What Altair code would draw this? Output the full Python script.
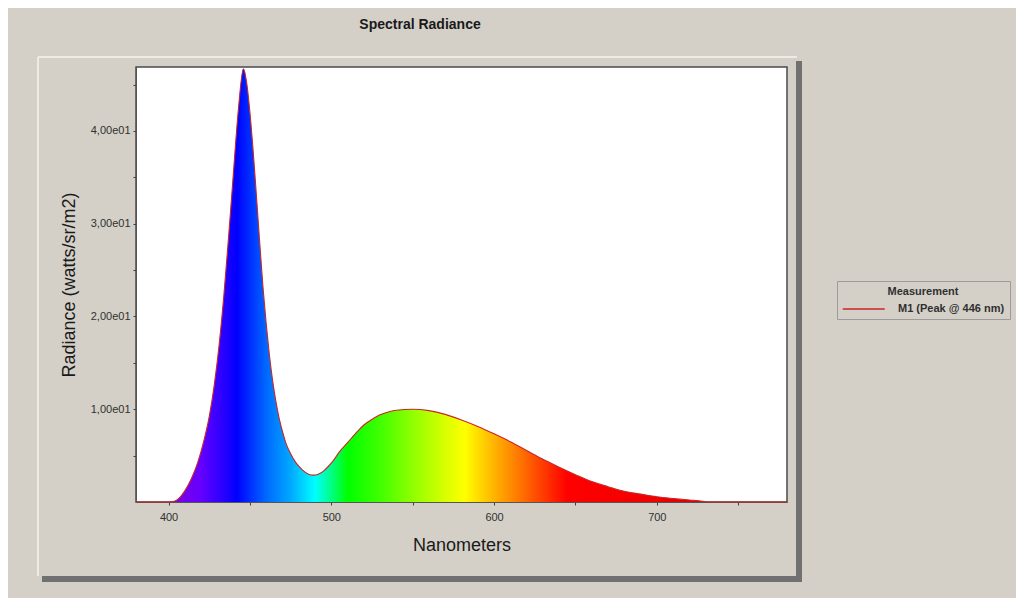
import altair as alt
import pandas as pd

# ---------------- data ----------------
wavelength_nm = [380, 400, 404, 407, 410, 414, 418, 422, 425, 428, 431, 434, 437, 440,
                 443, 446, 448, 450, 452, 454, 456, 458, 460, 462, 464, 466, 468, 470,
                 472, 475, 478, 482, 486, 489, 492, 495, 498, 501, 505, 510, 515, 520,
                 525, 530, 535, 540, 550, 560, 570, 580, 590, 600, 610, 620, 630, 640,
                 650, 660, 670, 680, 690, 700, 710, 720, 728, 731, 780]
radiance = [0, 0, 0.1, 0.5, 1.2, 2.5, 4.3, 6.8, 9.2, 12.5, 16.8, 22.3, 28.8, 35.8,
            42.5, 46.7, 45.2, 42.0, 37.8, 33.0, 28.0, 23.2, 19.2, 15.8, 13.0, 10.8, 9.0, 7.6,
            6.4, 5.2, 4.3, 3.5, 3.0, 2.9, 3.0, 3.3, 3.8, 4.4, 5.4, 6.4, 7.4, 8.3,
            8.9, 9.4, 9.7, 9.9, 10.0, 9.85, 9.45, 8.85, 8.15, 7.35, 6.5, 5.55, 4.6, 3.75,
            2.95, 2.2, 1.65, 1.15, 0.85, 0.57, 0.38, 0.22, 0.08, 0, 0]
series_name = "M1 (Peak @ 446 nm)"
chart_title = "Spectral Radiance"

x_tick_values = [400, 450, 500, 550, 600, 650, 700, 750]
x_tick_labels = ["400", "", "500", "", "600", "", "700", ""]
y_tick_values = [5, 10, 15, 20, 25, 30, 35, 40, 45]
y_tick_labels = ["", "1,00e01", "", "2,00e01", "", "3,00e01", "", "4,00e01", ""]

X_DOMAIN = [380, 780]
Y_DOMAIN = [0, 46.9]

# spectrum colours used for the fill (style)
gradient_nm = [380, 405, 420, 432, 442, 460, 475, 490, 500, 510, 530, 550, 570, 582,
               600, 615, 630, 645, 700, 780]
gradient_colors = ["#4b0070", "#7a00e6", "#6400ff", "#3000ff", "#0000ff", "#0068ff",
                   "#00a8ff", "#00ffff", "#00ff84", "#00ff00", "#40ff00", "#90ff00",
                   "#d8ff00", "#ffff00", "#ffb400", "#ff7800", "#ff3c00", "#ff0000",
                   "#f00000", "#c80000"]

FONT = "Liberation Sans"
BG = "#d4d0c8"

df = pd.DataFrame({"nm": wavelength_nm, "radiance": radiance, "series": series_name})


def label_expr(values, labels):
    expr = "''"
    for v, l in reversed(list(zip(values, labels))):
        expr = f"datum.value == {v} ? '{l}' : ({expr})"
    return expr


span = X_DOMAIN[1] - X_DOMAIN[0]
fill_gradient = alt.Gradient(
    gradient="linear",
    stops=[alt.GradientStop(offset=(n - X_DOMAIN[0]) / span, color=c)
           for n, c in zip(gradient_nm, gradient_colors)],
    x1=0, x2=1, y1=0, y2=0,
)

x_enc = alt.X(
    "nm:Q",
    scale=alt.Scale(domain=X_DOMAIN, nice=False, zero=False),
    axis=alt.Axis(
        title="Nanometers", values=x_tick_values,
        labelExpr=label_expr(x_tick_values, x_tick_labels),
        grid=False, tickSize=3, labelPadding=6, titlePadding=14,
        labelFontSize=11, labelFont=FONT, labelColor="#303030",
        titleFontSize=18, titleFont=FONT, titleFontWeight="normal", titleColor="#1a1a1a",
        domainColor="#555555", tickColor="#404040", labelFlush=False, labelOverlap=False,
    ),
)
y_enc = alt.Y(
    "radiance:Q",
    scale=alt.Scale(domain=Y_DOMAIN, nice=False),
    axis=alt.Axis(
        title="Radiance (watts/sr/m2)", values=y_tick_values,
        labelExpr=label_expr(y_tick_values, y_tick_labels),
        grid=False, tickSize=3, labelPadding=3, titlePadding=12,
        labelFontSize=11, labelFont=FONT, labelColor="#303030",
        titleFontSize=18, titleFont=FONT, titleFontWeight="normal", titleColor="#1a1a1a",
        domainColor="#555555", tickColor="#404040", labelOverlap=False,
    ),
)

base = alt.Chart(df)
area = base.mark_area(color=fill_gradient, interpolate="monotone").encode(x=x_enc, y=y_enc)
line = base.mark_line(interpolate="monotone", strokeWidth=1.1).encode(
    x=x_enc, y=y_enc,
    color=alt.Color(
        "series:N",
        scale=alt.Scale(domain=[series_name], range=["#c82626"]),
        legend=alt.Legend(
            title="Measurement", orient="none", legendX=701, legendY=214,
            titleAnchor="middle", titleFont=FONT, titleFontSize=11, titleFontWeight="bold",
            titleColor="#303030", titlePadding=6,
            labelFont=FONT, labelFontSize=11, labelFontWeight="bold", labelColor="#303030",
            symbolType="M-1,0H7", symbolSize=110.25, symbolStrokeWidth=1.5,
            labelOffset=44,
            padding=5, strokeColor="#9c9c9c", fillColor=BG,
        ),
    ),
)

one = alt.Data(values=[{"k": 0}])
hl = "#f6f4ee"
shadow = "#707070"
panel_top = alt.Chart(one).mark_rule(color=hl, strokeWidth=1.5).encode(
    x=alt.value(-98), x2=alt.value(661), y=alt.value(-10))
panel_left = alt.Chart(one).mark_rule(color=hl, strokeWidth=1.5).encode(
    x=alt.value(-98), y=alt.value(-10), y2=alt.value(509))
shadow_right = alt.Chart(one).mark_rect(color=shadow).encode(
    x=alt.value(660), x2=alt.value(666), y=alt.value(-6), y2=alt.value(515))
shadow_bottom = alt.Chart(one).mark_rect(color=shadow).encode(
    x=alt.value(-94), x2=alt.value(666), y=alt.value(509), y2=alt.value(515))
title_text = alt.Chart(one).mark_text(
    text=chart_title, font=FONT, fontSize=14, fontWeight="bold", color="#1a1a1a",
    align="center", baseline="alphabetic",
).encode(x=alt.value(284), y=alt.value(-38))

chart = alt.layer(panel_top, panel_left, shadow_right, shadow_bottom, title_text,
                  area, line).properties(
    width=651, height=435,
    autosize=alt.AutoSizeParams(type="none"),
    padding={"left": 128, "top": 59, "right": 229, "bottom": 96},
    background=BG,
).configure_view(fill="white", stroke="#4a4a4a", strokeWidth=1.5)

chart.save("out.html", embed_options={"renderer": "svg", "actions": False})
